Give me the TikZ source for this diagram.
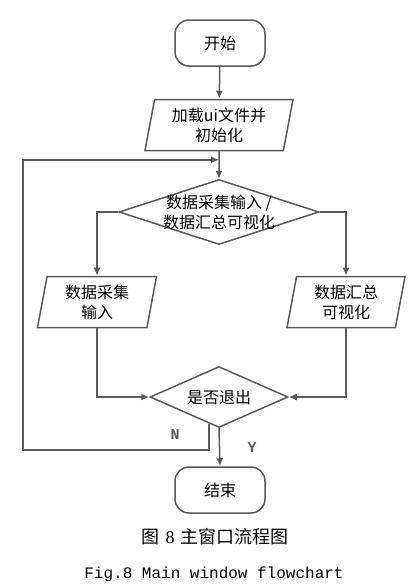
\documentclass[tikz,border=0pt]{standalone}
\usepackage{fontspec}
\newfontfamily\cjk{Noto Sans CJK SC}
\newfontfamily\capmono{Liberation Mono}
\newfontfamily\capserif{Liberation Serif}
\usetikzlibrary{arrows.meta, positioning, shapes.geometric, calc}
\definecolor{linegray}{HTML}{595959}

\begin{document}
\begin{tikzpicture}[
    x=1pt, y=-1pt,
    >={Latex[length=8pt, width=7pt]},
    terminal/.style={
        draw=linegray,
        line width=1.5pt,
        rounded corners=14pt,
        minimum width=90pt,
        minimum height=46pt,
        font=\cjk\fontsize{16}{20}\selectfont,
    },
    io/.style={
        trapezium,
        trapezium left angle=77,
        trapezium right angle=103,
        trapezium stretches body,
        draw=linegray,
        line width=1.5pt,
        minimum height=51pt,
        inner xsep=0pt,
        align=center,
        font=\cjk\fontsize{16}{20}\selectfont,
    },
    decision/.style={
        diamond,
        draw=linegray,
        line width=1.5pt,
        inner sep=0pt,
        align=center,
        font=\cjk\fontsize{16}{20}\selectfont,
    },
    flow/.style={->, line width=1.5pt, linegray},
    lbl/.style={font=\capmono\bfseries\fontsize{15}{17}\selectfont},
]
\useasboundingbox (0,0) rectangle (415,587);

% --- Main column, placed by coordinates ---
\node[terminal] (start) at (220,43) {开始};
\node[io, minimum width=148pt] (load) at (219,125) {加载ui文件并\\初始化};
\node[decision, aspect=3.08, inner xsep=-11pt,
    minimum width=200pt, minimum height=65pt] (choose) at (219,212)
    {数据采集输入 /\\数据汇总可视化};

% --- Two branches ---
\node[io, minimum width=119pt] (collect) at (97,302) {数据采集\\输入};
\node[io, minimum width=118pt] (show) at (346,302) {数据汇总\\可视化};

\node[decision, aspect=2.26,
    minimum width=138pt, minimum height=61pt] (quit) at (219,397) {是否退出};
\node[terminal] (stop) at (220,490) {结束};

% --- Connectors ---
\coordinate (merge) at ($(load.south)!0.31!(choose.north)$);
\coordinate (nback) at (23,450);

\draw[flow] (start) -- (load);
\draw[flow] (load.south) -- (choose.north);
\draw[flow] (choose.west) -| (collect.north);
\draw[flow] (choose.east) -| (show.north);
\draw[flow] (collect.south) |- (quit.west);
\draw[flow] (show.south) |- (quit.east);

% Y: leave the loop
\draw[flow] (quit.south) -- node[lbl, right=24pt] {Y} (stop.north);
% N: back to the choice
\draw[flow] (quit.250) |- node[lbl, xshift=-34pt, yshift=15pt] {N} (nback) |- (merge);

% --- Caption ---
\node[font=\cjk\fontsize{18}{20}\selectfont] (capzh) at (215,537)
    {图\hspace{6pt}{\capserif 8}\hspace{6pt}主窗口流程图};
\node[font=\capmono\fontsize{16}{20}\selectfont] (capen) at (214,574) {Fig.8 Main window flowchart};

\end{tikzpicture}
\end{document}
